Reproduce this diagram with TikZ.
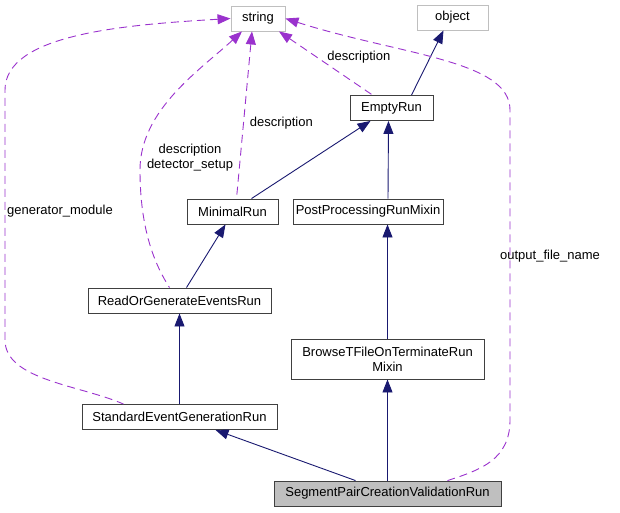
\documentclass[tikz,border=0pt]{standalone}
\usepackage{fontspec}
\setmainfont{Liberation Sans}
\usepackage{tikz}
\usetikzlibrary{arrows.meta, positioning}
\definecolor{myedge}{RGB}{25,25,112}
\definecolor{myuse}{RGB}{154,50,205}
\definecolor{myframe}{RGB}{64,64,64}
\definecolor{mygrey}{RGB}{191,191,191}
\tikzset{
  cls/.style={rectangle, draw=myframe, fill=white, inner sep=1pt,
    minimum height=25pt, align=center, font=\fontsize{13}{15}\selectfont,
    line width=0.9pt},
  extcls/.style={cls, draw=mygrey},
  curcls/.style={cls, fill=mygrey},
  inharrow/.style={{Triangle[length=13pt,width=10pt]}-, color=myedge, line width=0.9pt},
  usearrow/.style={{Triangle[length=13pt,width=10pt]}-, color=myuse, line width=0.9pt,
    dash pattern=on 8pt off 5pt},
  lbl/.style={font=\fontsize{13}{15}\selectfont, align=center, inner sep=0pt, text=black}
}
\begin{document}
\begin{tikzpicture}[x=1pt, y=-1pt]
  \useasboundingbox (0,0) rectangle (620,512);

  \node[extcls, minimum width=54pt] (string) at (258,18.5) {string};
  \node[extcls, minimum width=71pt] (object) at (452.5,17.5) {object};
  \node[cls, minimum width=83pt] (emptyrun) at (391.5,108) {EmptyRun};
  \node[cls, minimum width=91pt] (minimal) at (232.5,211.5) {MinimalRun};
  \node[cls, minimum width=150pt] (postproc) at (368,211.5) {PostProcessingRunMixin};
  \node[cls, minimum width=183pt] (readgen) at (179.5,300.5) {ReadOrGenerateEventsRun};
  \node[cls, minimum width=193pt, minimum height=40pt] (browse) at (387.5,359) {BrowseTFileOnTerminateRun\\Mixin};
  \node[cls, minimum width=195pt] (stdgen) at (179.5,417) {StandardEventGenerationRun};
  \node[curcls, minimum width=227pt] (segpair) at (387.5,493.5) {SegmentPairCreationValidationRun};

  % inheritance
  \draw[inharrow] ([xshift=-9pt]object.south) -- ([xshift=20pt]emptyrun.north);
  \draw[inharrow] ([xshift=-21pt]emptyrun.south) -- ([xshift=19pt]minimal.north);
  \draw[inharrow] ([xshift=-3pt]emptyrun.south) -- ([xshift=20pt]postproc.north);
  \draw[inharrow] ([xshift=-7pt]minimal.south) -- ([xshift=7pt]readgen.north);
  \draw[inharrow] (readgen.south) -- (stdgen.north);
  \draw[inharrow] (postproc.south -| browse.north) -- (browse.north);
  \draw[inharrow] ([xshift=36pt]stdgen.south) -- ([xshift=-32pt]segpair.north);
  \draw[inharrow] (browse.south) -- (segpair.north);

  % usage
  \draw[usearrow] ([xshift=21pt]string.south) -- ([xshift=-19pt]emptyrun.north)
    node[lbl, pos=0.47, above right=-2pt and 4pt] {description};
  \draw[usearrow] ([xshift=-6pt]string.south) -- ([xshift=4pt]minimal.north)
    node[lbl, pos=0.55, right=6pt] {description};
  \draw[usearrow] ([xshift=-16pt]string.south) .. controls (200,70) and (140,110) ..
    (140,170) .. controls (140,230) and (155,265) .. ([xshift=-10pt]readgen.north);
  \node[lbl] (lblread) at (190,158) {description\\detector\_setup};
  \draw[usearrow] (string.west) .. controls (120,25) and (5,35) .. (5,90) -- (5,340)
    .. controls (5,380) and (80,385) .. ([xshift=-56pt]stdgen.north);
  \node[lbl] (lblgen) at (60,211) {generator\_module};
  \draw[usearrow] (string.east) .. controls (400,55) and (510,60) .. (510,110) -- (510,420)
    .. controls (510,460) and (480,470) .. ([xshift=60pt]segpair.north);
  \node[lbl] (lblout) at (550,256) {output\_file\_name};
\end{tikzpicture}
\end{document}
